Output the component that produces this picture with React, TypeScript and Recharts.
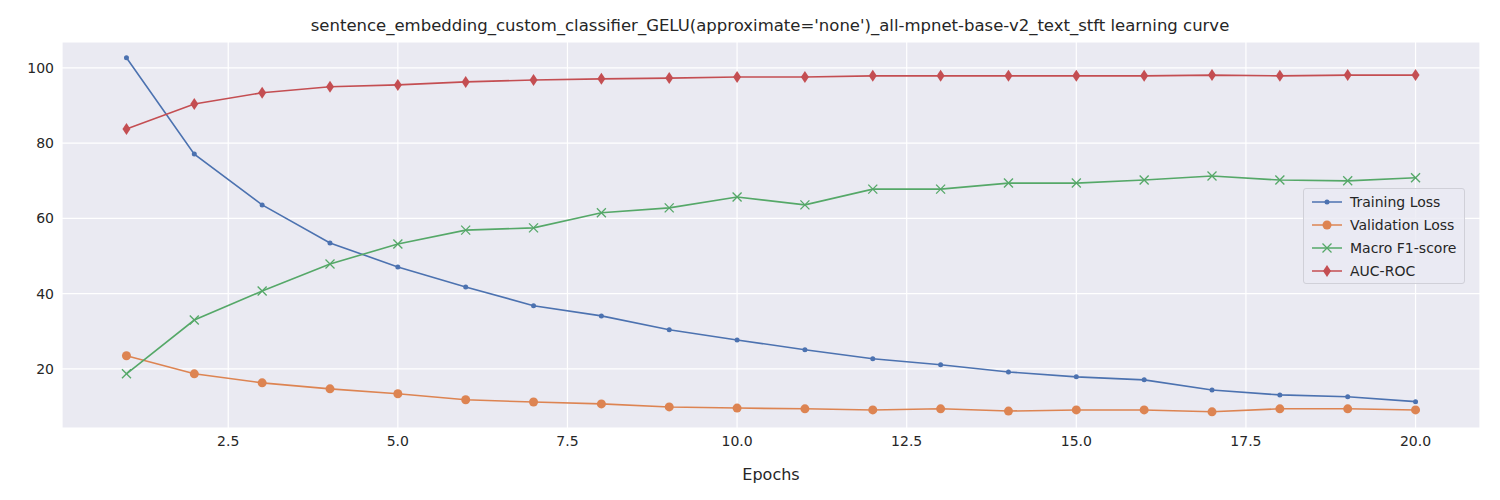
import React from "react";
import { LineChart, Line, XAxis, YAxis, CartesianGrid } from "recharts";

const epochs = [1, 2, 3, 4, 5, 6, 7, 8, 9, 10, 11, 12, 13, 14, 15, 16, 17, 18, 19, 20];
const trainingLoss = [102.7, 77.1, 63.6, 53.5, 47.1, 41.8, 36.8, 34.1, 30.4, 27.7, 25.1, 22.7, 21.1, 19.2, 17.9, 17.1, 14.4, 13.1, 12.6, 11.3];
const validationLoss = [23.5, 18.7, 16.3, 14.7, 13.4, 11.8, 11.2, 10.7, 9.9, 9.6, 9.4, 9.1, 9.4, 8.8, 9.1, 9.1, 8.6, 9.4, 9.4, 9.1];
const macroF1 = [18.7, 33.0, 40.7, 47.9, 53.2, 56.9, 57.5, 61.5, 62.8, 65.7, 63.6, 67.8, 67.8, 69.4, 69.4, 70.2, 71.3, 70.2, 70.0, 70.8];
const aucRoc = [83.8, 90.4, 93.4, 95.0, 95.5, 96.3, 96.8, 97.1, 97.3, 97.6, 97.6, 97.9, 97.9, 97.9, 97.9, 97.9, 98.1, 97.9, 98.1, 98.1];
const xTicks = [2.5, 5, 7.5, 10, 12.5, 15, 17.5, 20];
const yTicks = [20, 40, 60, 80, 100];

const data = epochs.map((e, i) => ({
  epoch: e,
  train: trainingLoss[i],
  val: validationLoss[i],
  f1: macroF1[i],
  auc: aucRoc[i],
}));

const FONT = "DejaVu Sans, sans-serif";

type Kind = "dot" | "circle" | "x" | "diamond";

function Marker({ cx, cy, kind, color }: { cx: number; cy: number; kind: Kind; color: string }) {
  if (kind === "dot") return <circle cx={cx} cy={cy} r={2.5} fill={color} />;
  if (kind === "circle") return <circle cx={cx} cy={cy} r={4.5} fill={color} />;
  if (kind === "x") {
    const s = 4.5;
    return (
      <g stroke={color} strokeWidth={1.3}>
        <line x1={cx - s} y1={cy - s} x2={cx + s} y2={cy + s} />
        <line x1={cx - s} y1={cy + s} x2={cx + s} y2={cy - s} />
      </g>
    );
  }
  return <polygon points={`${cx},${cy - 6} ${cx + 4},${cy} ${cx},${cy + 6} ${cx - 4},${cy}`} fill={color} />;
}

const series: { key: string; name: string; color: string; kind: Kind }[] = [
  { key: "train", name: "Training Loss", color: "#4C72B0", kind: "dot" },
  { key: "val", name: "Validation Loss", color: "#DD8452", kind: "circle" },
  { key: "f1", name: "Macro F1-score", color: "#55A868", kind: "x" },
  { key: "auc", name: "AUC-ROC", color: "#C44E52", kind: "diamond" },
];

function LegendBox() {
  return (
    <div style={{ position: "absolute", left: 1303, top: 188, background: "rgba(234,234,242,0.8)", border: "1px solid #d0d0d8", borderRadius: 3, padding: "1px 8px 1px 8px", fontFamily: FONT, fontSize: 14, color: "#262626" }}>
      {series.map((s) => (
        <div key={s.key} style={{ display: "flex", alignItems: "center", height: 23 }}>
          <svg width={30} height={14} style={{ marginRight: 8 }}>
            <line x1={0} y1={7} x2={30} y2={7} stroke={s.color} strokeWidth={1.5} />
            <Marker cx={15} cy={7} kind={s.kind} color={s.color} />
          </svg>
          {s.name}
        </div>
      ))}
    </div>
  );
}

export default function App() {
  return (
    <div style={{ position: "relative", width: 1500, height: 500, margin: -8, background: "#fff" }}>
      <div style={{ position: "absolute", top: 16, width: 1540, textAlign: "center", fontFamily: FONT, fontSize: 16.5, color: "#262626", zIndex: 1 }}>
        sentence_embedding_custom_classifier_GELU(approximate='none')_all-mpnet-base-v2_text_stft learning curve
      </div>
      <LineChart width={1500} height={500} data={data} margin={{ top: 42, right: 20, left: 0, bottom: 0 }}>
        <CartesianGrid fill="#EAEAF2" stroke="#fff" strokeWidth={1.2} />
        <XAxis
          dataKey="epoch"
          type="number"
          domain={[0.05, 20.95]}
          ticks={xTicks}
          tickFormatter={(v: number) => v.toFixed(1)}
          axisLine={false}
          tickLine={false}
          height={72}
          tick={{ fontFamily: FONT, fontSize: 14, fill: "#262626" }}
          label={{ value: "Epochs", position: "insideBottom", offset: 20, style: { fontFamily: FONT, fontSize: 16, fill: "#262626" } }}
        />
        <YAxis
          type="number"
          domain={[4.3, 106.9]}
          ticks={yTicks}
          axisLine={false}
          tickLine={false}
          width={62}
          tick={{ fontFamily: FONT, fontSize: 14, fill: "#262626" }}
        />
        {series.map((s) => (
          <Line
            key={s.key}
            dataKey={s.key}
            name={s.name}
            stroke={s.color}
            strokeWidth={1.6}
            isAnimationActive={false}
            dot={(p: any) => <Marker key={p.index} cx={p.cx} cy={p.cy} kind={s.kind} color={s.color} />}
          />
        ))}
      </LineChart>
      <LegendBox />
    </div>
  );
}
